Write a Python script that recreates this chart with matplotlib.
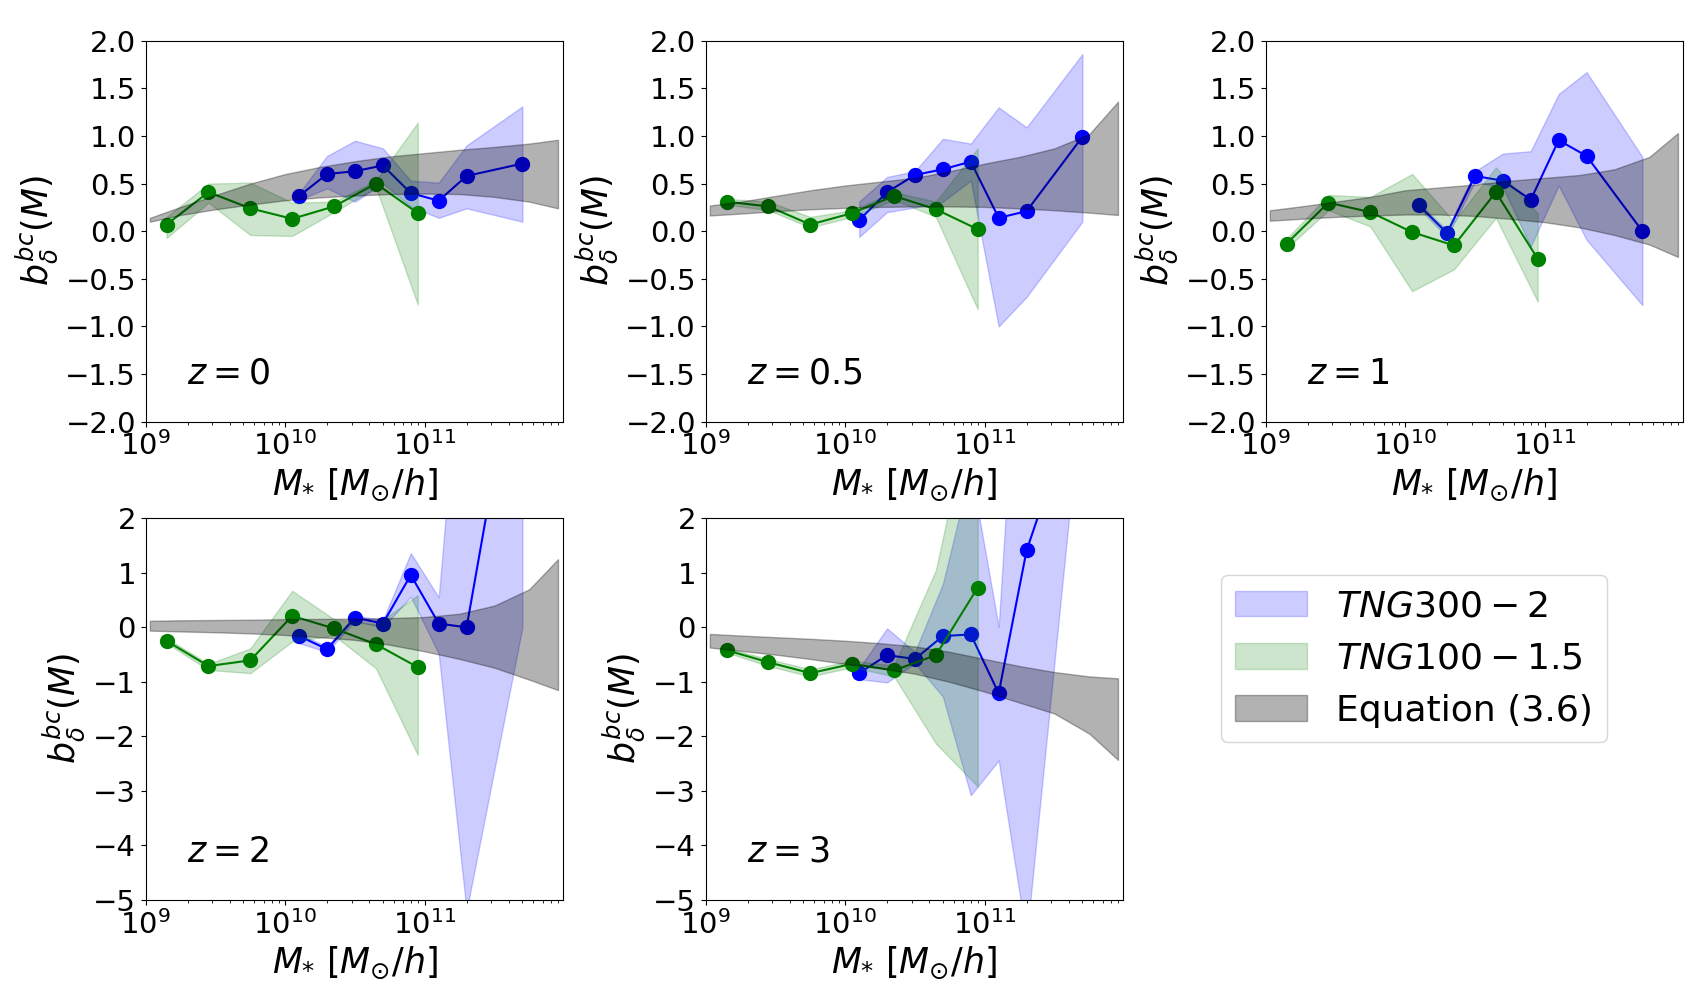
import numpy as np
import matplotlib
matplotlib.use("Agg")
import matplotlib.pyplot as plt
from matplotlib.patches import Patch

# ---------------- data (log10 of stellar mass) ----------------
lg_tng100 = [9.15, 9.45, 9.75, 10.05, 10.35, 10.65, 10.95]
lg_tng300 = [10.1, 10.3, 10.5, 10.7, 10.9, 11.1, 11.3, 11.7]
lg_eq = [9.03, 9.25, 9.5, 9.75, 10.0, 10.25, 10.5, 10.75, 11.0, 11.25, 11.5, 11.75, 11.955]

redshift_labels = ["0", "0.5", "1", "2", "3"]

# TNG100-1.5 (green)
g_val = {
    "0":   [0.07, 0.41, 0.24, 0.13, 0.26, 0.50, 0.19],
    "0.5": [0.31, 0.26, 0.07, 0.19, 0.37, 0.23, 0.02],
    "1":   [-0.13, 0.30, 0.20, -0.01, -0.15, 0.41, -0.29],
    "2":   [-0.25, -0.71, -0.605, 0.21, -0.02, -0.31, -0.73],
    "3":   [-0.42, -0.64, -0.84, -0.67, -0.79, -0.51, 0.73],
}
g_lo = {
    "0":   [-0.07, 0.30, -0.04, -0.05, 0.20, 0.46, -0.77],
    "0.5": [0.28, 0.22, 0.04, 0.15, 0.33, 0.15, -0.82],
    "1":   [-0.18, 0.22, 0.05, -0.63, -0.40, 0.14, -0.74],
    "2":   [-0.29, -0.78, -0.84, -0.26, -0.15, -0.75, -2.34],
    "3":   [-0.46, -0.71, -0.90, -0.73, -0.90, -2.13, -2.92],
}
g_hi = {
    "0":   [0.15, 0.50, 0.51, 0.30, 0.31, 0.53, 1.14],
    "0.5": [0.34, 0.31, 0.15, 0.22, 0.41, 0.31, 0.87],
    "1":   [-0.08, 0.38, 0.36, 0.60, 0.10, 0.67, 0.185],
    "2":   [-0.20, -0.67, -0.385, 0.67, 0.15, 0.05, 0.59],
    "3":   [-0.385, -0.58, -0.77, -0.61, -0.70, 1.05, 4.6],
}

# TNG300-2 (blue)
b_val = {
    "0":   [0.37, 0.60, 0.63, 0.69, 0.40, 0.32, 0.58, 0.71],
    "0.5": [0.115, 0.41, 0.59, 0.65, 0.73, 0.14, 0.21, 0.99],
    "1":   [0.27, -0.02, 0.58, 0.53, 0.33, 0.955, 0.79, 0.0],
    "2":   [-0.16, -0.40, 0.18, 0.07, 0.96, 0.07, 0.0, 5.8],
    "3":   [-0.84, -0.51, -0.58, -0.16, -0.13, -1.21, 1.41, 4.43],
}
b_lo = {
    "0":   [0.33, 0.45, 0.31, 0.50, 0.26, 0.14, 0.24, 0.10],
    "0.5": [-0.06, 0.20, 0.25, 0.31, 0.53, -1.0, -0.69, 0.10],
    "1":   [0.24, -0.06, 0.52, 0.46, -0.16, 0.48, -0.09, -0.776],
    "2":   [-0.29, -0.45, 0.12, 0.0, 0.56, -0.48, -5.2, 0.0],
    "3":   [-0.95, -1.01, -0.66, -1.27, -3.08, -2.44, -5.7, 4.43],
}
b_hi = {
    "0":   [0.40, 0.79, 0.95, 0.87, 0.53, 0.51, 0.90, 1.31],
    "0.5": [0.31, 0.57, 0.63, 0.97, 0.92, 1.30, 1.09, 1.86],
    "1":   [0.29, 0.01, 0.63, 0.815, 0.84, 1.44, 1.67, 0.78],
    "2":   [-0.12, -0.35, 0.22, 0.13, 1.36, 0.55, 6.5, 10.0],
    "3":   [-0.75, -0.02, -0.45, 0.8, 2.9, 0.01, 8.2, 8.0],
}

# Equation (3.6) band (grey)
eq_lo = {
    "0":   [0.10, 0.17, 0.23, 0.28, 0.325, 0.355, 0.375, 0.39, 0.395, 0.39, 0.36, 0.31, 0.24],
    "0.5": [0.165, 0.185, 0.21, 0.23, 0.245, 0.255, 0.26, 0.26, 0.255, 0.24, 0.22, 0.195, 0.17],
    "1":   [0.11, 0.13, 0.15, 0.165, 0.175, 0.175, 0.16, 0.13, 0.095, 0.04, -0.04, -0.14, -0.27],
    "2":   [-0.06, -0.075, -0.09, -0.11, -0.14, -0.18, -0.23, -0.32, -0.44, -0.58, -0.74, -0.96, -1.15],
    "3":   [-0.37, -0.43, -0.50, -0.58, -0.67, -0.75, -0.85, -1.0, -1.18, -1.38, -1.58, -1.95, -2.43],
}
eq_hi = {
    "0":   [0.14, 0.255, 0.38, 0.5, 0.6, 0.675, 0.735, 0.785, 0.82, 0.855, 0.885, 0.92, 0.96],
    "0.5": [0.27, 0.31, 0.37, 0.43, 0.48, 0.52, 0.56, 0.63, 0.71, 0.78, 0.87, 1.02, 1.36],
    "1":   [0.22, 0.26, 0.31, 0.36, 0.43, 0.46, 0.49, 0.53, 0.56, 0.59, 0.65, 0.78, 1.03],
    "2":   [0.12, 0.13, 0.135, 0.14, 0.15, 0.155, 0.16, 0.17, 0.19, 0.25, 0.40, 0.70, 1.25],
    "3":   [-0.12, -0.15, -0.18, -0.21, -0.245, -0.29, -0.35, -0.45, -0.58, -0.71, -0.82, -0.9, -0.935],
}

ylims = {"0": (-2, 2), "0.5": (-2, 2), "1": (-2, 2), "2": (-5, 2), "3": (-5, 2)}
yticks_top = [-2.0, -1.5, -1.0, -0.5, 0.0, 0.5, 1.0, 1.5, 2.0]
yticks_bottom = [-5, -4, -3, -2, -1, 0, 1, 2]

# ---------------- figure ----------------
fig = plt.figure(figsize=(17, 10), dpi=100)
lefts = [0.0857, 0.4151, 0.7445]
w = 0.2455
positions = [
    (lefts[0], 0.5783, 0.381), (lefts[1], 0.5783, 0.381), (lefts[2], 0.5783, 0.381),
    (lefts[0], 0.100, 0.3817), (lefts[1], 0.100, 0.3817),
]

x100 = 10 ** np.array(lg_tng100)
x300 = 10 ** np.array(lg_tng300)
xeq = 10 ** np.array(lg_eq)

for (l, b, h), z in zip(positions, redshift_labels):
    ax = fig.add_axes([l, b, w, h])
    ax.fill_between(x300, b_lo[z], b_hi[z], color="blue", alpha=0.2, zorder=2)
    ax.plot(x300, b_val[z], "o-", color="blue", ms=10, lw=1.5, zorder=2)
    ax.fill_between(x100, g_lo[z], g_hi[z], color="green", alpha=0.2, zorder=2)
    ax.plot(x100, g_val[z], "o-", color="green", ms=10, lw=1.5, zorder=2)
    ax.fill_between(xeq, eq_lo[z], eq_hi[z], color="k", alpha=0.3, zorder=2)
    ax.set_xscale("log")
    ax.set_xlim(1e9, 9.8e11)
    ax.set_ylim(*ylims[z])
    if z in ("0", "0.5", "1"):
        ax.set_yticks(yticks_top)
        ax.set_yticklabels(["%.1f" % t if t >= 0 else "\u2212%.1f" % -t for t in yticks_top])
    else:
        ax.set_yticks(yticks_bottom)
        ax.set_yticklabels(["%d" % t if t >= 0 else "\u2212%d" % -t for t in yticks_bottom])
    ax.tick_params(labelsize=21)
    ax.set_xlabel(r"$M_{*}\ [M_{\odot}/h]$", fontsize=25)
    ax.set_ylabel(r"$b_{\delta}^{bc}(M)$", fontsize=25)
    ax.text(0.1, 0.1, r"$z = %s$" % z, transform=ax.transAxes,
            fontsize=25, ha="left", va="baseline")

handles = [
    Patch(facecolor="blue", edgecolor="blue", alpha=0.2),
    Patch(facecolor="green", edgecolor="green", alpha=0.2),
    Patch(facecolor="k", edgecolor="k", alpha=0.3),
]
labels = [r"$TNG300-2$", r"$TNG100-1.5$", "Equation (3.6)"]
fig.legend(handles, labels, loc="upper left", bbox_to_anchor=(0.718, 0.425),
           borderaxespad=0, fontsize=26)

fig.savefig("out.png", dpi=100)
